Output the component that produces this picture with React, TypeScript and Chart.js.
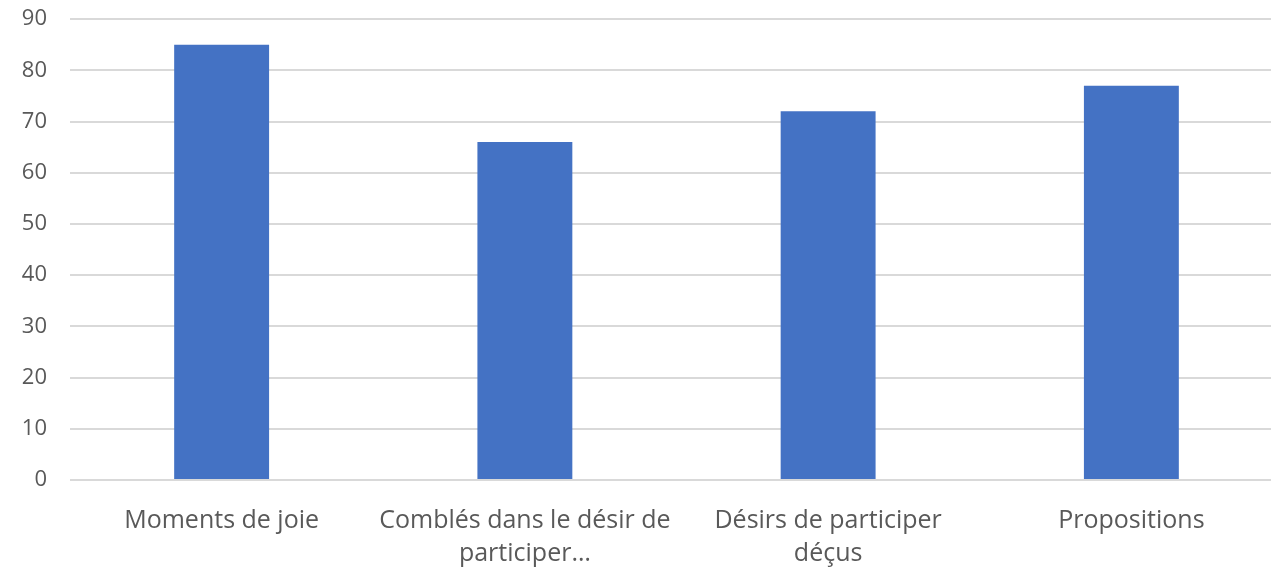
import React, { useEffect, useRef } from "react";
import { Chart, registerables } from "chart.js";

Chart.register(...registerables);

const categories: string[][] = [
  ["Moments de joie"],
  ["Comblés dans le désir de", "participer…"],
  ["Désirs de participer", "déçus"],
  ["Propositions"],
];
const values: number[] = [85, 66, 72, 77];
const yMin = 0;
const yMax = 90;
const yStep = 10;

export default function App() {
  const ref = useRef<HTMLCanvasElement | null>(null);

  useEffect(() => {
    document.body.style.margin = "0";
    document.body.style.overflow = "hidden";
    const canvas = ref.current;
    if (!canvas) return;
    const chart = new Chart(canvas, {
      type: "bar",
      data: {
        labels: categories,
        datasets: [
          {
            data: values,
            backgroundColor: "#4472C4",
            borderWidth: 0,
            categoryPercentage: 0.313,
            barPercentage: 1,
          },
        ],
      },
      options: {
        animation: false,
        responsive: false,
        maintainAspectRatio: false,
        layout: { padding: { top: -9, right: 0, bottom: 0, left: 0 } },
        plugins: { legend: { display: false }, tooltip: { enabled: false } },
        scales: {
          x: {
            grid: { display: false, drawTicks: false },
            border: { display: false },
            ticks: {
              color: "#595959",
              font: { family: "'Open Sans'", size: 25, lineHeight: 1.32 },
              padding: 24,
              maxRotation: 0,
              autoSkip: false,
            },
            afterFit: (s: any) => {
              s.height = 90;
            },
          },
          y: {
            min: yMin,
            max: yMax,
            grid: { color: "#D9D9D9", lineWidth: 2, drawTicks: false },
            border: { display: false },
            ticks: {
              stepSize: yStep,
              color: "#595959",
              font: { family: "'Open Sans'", size: 22 },
              padding: 23,
            },
            afterFit: (s: any) => {
              s.width = 70;
            },
          },
        },
      },
    });
    return () => chart.destroy();
  }, []);

  return (
    <div style={{ width: 1283, height: 570, background: "#fff", overflow: "hidden" }}>
      <canvas
        ref={ref}
        width={1283}
        height={587}
        style={{ display: "block", marginTop: -17 }}
      />
    </div>
  );
}
